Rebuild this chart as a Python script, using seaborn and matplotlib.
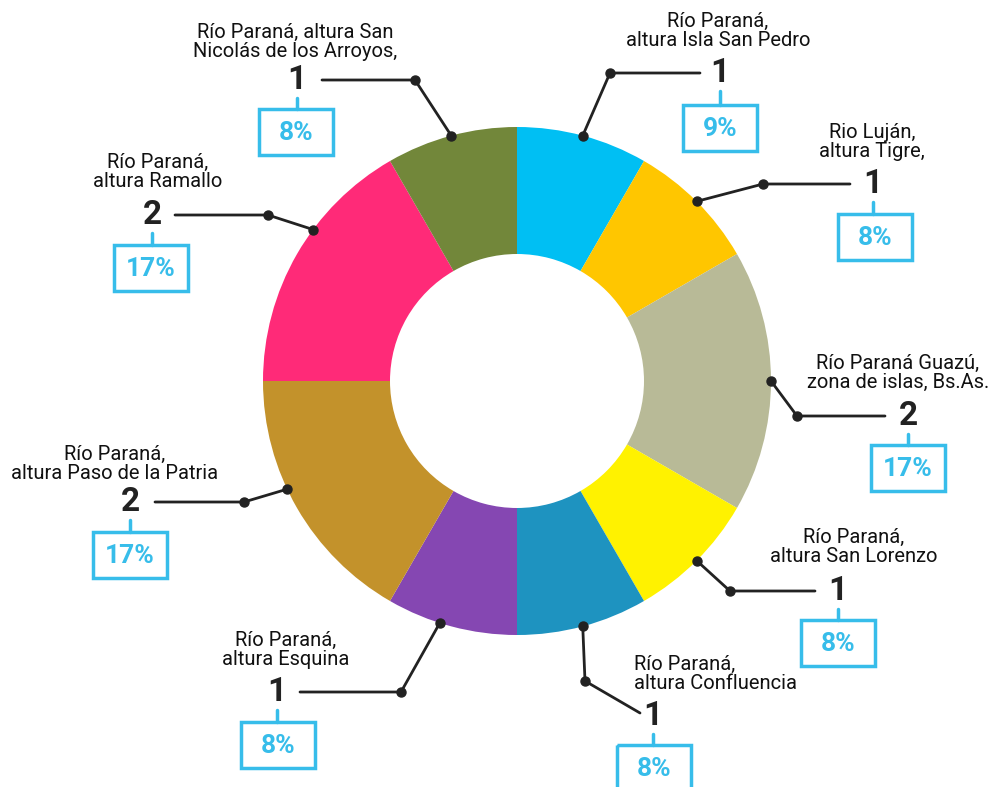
import numpy as np
import matplotlib.pyplot as plt
import seaborn as sns
from matplotlib.patches import FancyBboxPatch

# data, clockwise from the top
labels = ["Río Paraná,\naltura Isla San Pedro",
          "Rio Luján,\naltura Tigre,",
          "Río Paraná Guazú,\nzona de islas, Bs.As.",
          "Río Paraná,\naltura San Lorenzo",
          "Río Paraná,\naltura Confluencia",
          "Río Paraná,\naltura Esquina",
          "Río Paraná,\naltura Paso de la Patria",
          "Río Paraná,\naltura Ramallo",
          "Río Paraná, altura San\nNicolás de los Arroyos,"]
counts = [1, 1, 2, 1, 1, 1, 2, 2, 1]
pct_labels = ["9%", "8%", "17%", "8%", "8%", "8%", "17%", "17%", "8%"]
colors = ["#00BFF3", "#FFC600", "#B8BA97", "#FFF200", "#1E93C0",
          "#8547B2", "#C3922B", "#FF2A78", "#72873A"]

# layout (pixel coordinates): anchor fraction in wedge, elbow, line end,
# number pos, text pos/align, box centre
layout = [
    dict(f=0.5, elbow=(610, 73), end=(700, 73), num=(720, 73), txt=(718, 31, "center"), box=(720, 128)),
    dict(f=0.5, elbow=(763, 184), end=(850, 184), num=(873, 184), txt=(872, 142, "center"), box=(875, 237)),
    dict(f=0.5, elbow=(797, 416), end=(885, 416), num=(908, 416), txt=(898, 373, "center"), box=(908, 468)),
    dict(f=0.5, elbow=(730, 591), end=(815, 591), num=(838, 591), txt=(854, 547, "center"), box=(838, 643)),
    dict(f=0.5, elbow=(585, 681), end=(640, 713), num=(653, 716), txt=(634, 674, "left"), box=(654, 768)),
    dict(f=0.59, elbow=(401, 692), end=(300, 692), num=(277, 692), txt=(286, 650, "center"), box=(278, 745)),
    dict(f=0.58, elbow=(244, 502), end=(155, 502), num=(130, 502), txt=(115, 464, "center"), box=(130, 555)),
    dict(f=0.61, elbow=(268, 215), end=(175, 215), num=(152, 215), txt=(158, 172, "center"), box=(151, 268)),
    dict(f=0.5, elbow=(415, 80), end=(322, 80), num=(297, 80), txt=(295, 42, "center"), box=(296, 132)),
]

sns.set_theme(style="white")
plt.rcParams['font.family'] = ['Roboto', 'DejaVu Sans']

fig = plt.figure(figsize=(10.01, 7.87), dpi=100)
ax = fig.add_axes([0, 0, 1, 1])

cx, cy, R = 517, 381, 254
wedges, _ = ax.pie(counts, colors=sns.color_palette(colors), startangle=-90,
                   counterclock=True, center=(cx, cy), radius=R,
                   wedgeprops=dict(width=R * 0.5, linewidth=0))
ax.set_xlim(0, 1001)
ax.set_ylim(787, 0)
ax.set_aspect("equal")
ax.axis("off")

box_col = "#37BDEA"
ink = "#222222"
for w, lab, cnt, pct, lay in zip(wedges, labels, counts, pct_labels, layout):
    ang = np.deg2rad(w.theta1 + lay["f"] * (w.theta2 - w.theta1))
    dot = (cx + R * np.cos(ang), cy + R * np.sin(ang))
    ex, ey = lay["elbow"]
    lx, ly = lay["end"]
    ax.plot([dot[0], ex, lx], [dot[1], ey, ly], color=ink, lw=2, zorder=5)
    ax.plot([dot[0], ex], [dot[1], ey], "o", color=ink, ms=6.5, zorder=6)
    nx, ny = lay["num"]
    ax.text(nx, ny, str(cnt), ha="center", va="center", fontsize=24,
            fontweight="bold", color=ink)
    tx, ty, al = lay["txt"]
    ax.text(tx, ty, lab, ha=al, va="center", fontsize=14.5, color="#111111",
            linespacing=1.0, multialignment=al)
    bx, by = lay["box"]
    ax.plot([nx, nx], [ny + 18, by - 23], color=box_col, lw=2.5)
    ax.add_patch(FancyBboxPatch((bx - 37, by - 23), 74, 46, boxstyle="square,pad=0",
                                fill=False, ec=box_col, lw=2.5))
    ax.text(bx, by + 1, pct, ha="center", va="center", fontsize=19,
            fontweight="bold", color=box_col)

fig.savefig("out.png", dpi=100, facecolor="white")
